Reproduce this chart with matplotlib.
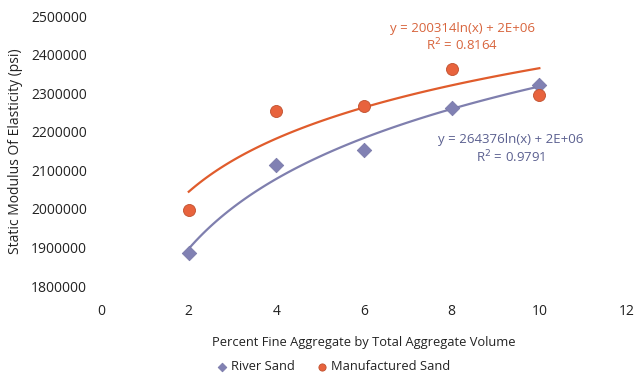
import matplotlib
matplotlib.use("Agg")
import matplotlib.pyplot as plt
import numpy as np

plt.rcParams['font.family'] = ['Open Sans', 'DejaVu Sans']

# percent fine aggregate
pct = [2, 4, 6, 8, 10]
river_sand = [1886000, 2114000, 2153000, 2262000, 2321000]
manuf_sand = [1997000, 2254000, 2267000, 2363000, 2295000]

blue = "#8181b3"
orange = "#e8633d"

fig = plt.figure(figsize=(6.44, 3.74), dpi=100)
ax = fig.add_axes([0.157, 0.235, 0.8166, 0.722])

# log trendlines fitted from the points
xs = np.linspace(2, 10, 100)
for vals, col in [(river_sand, "#7f7fae"), (manuf_sand, "#e05c2c")]:
    a, b = np.polyfit(np.log(pct), vals, 1)
    ax.plot(xs, a * np.log(xs) + b, color=col, lw=1.6, zorder=2)

ax.scatter(pct, river_sand, marker="D", s=55, color=blue, edgecolor="#7676a6",
           linewidth=0.5, zorder=3, label="River Sand")
ax.scatter(pct, manuf_sand, marker="o", s=75, color=orange, edgecolor="#c0502e",
           linewidth=0.6, zorder=3, label="Manufactured Sand")

ax.text(8.24, 2469000, "y = 200314ln(x) + 2E+06", color="#d8643c", fontsize=9.5,
        ha="center", va="center")
ax.text(8.24, 2425000, "R$^2$ = 0.8164", color="#d8643c", fontsize=9.5,
        ha="center", va="center")
ax.text(9.35, 2179000, "y = 264376ln(x) + 2E+06", color="#5b6090", fontsize=9.5,
        ha="center", va="center")
ax.text(9.35, 2135000, "R$^2$ = 0.9791", color="#5b6090", fontsize=9.5,
        ha="center", va="center")

ax.set_xlim(0, 12)
ax.set_ylim(1800000, 2500000)
ax.set_xticks(range(0, 13, 2))
ax.set_yticks(range(1800000, 2500001, 100000))
ax.ticklabel_format(style="plain", axis="y")
ax.tick_params(length=0, labelsize=10, colors="#222222")
ax.tick_params(axis="x", pad=13)
ax.tick_params(axis="y", pad=10)
for s in ax.spines.values():
    s.set_visible(False)

ax.set_xlabel("Percent Fine Aggregate by Total Aggregate Volume", fontsize=9.3,
              color="#222222", labelpad=12)
ax.set_ylabel("Static Modulus Of Elasticity (psi)", fontsize=10, color="#222222",
              labelpad=6)

fig.legend(loc="center", bbox_to_anchor=(0.512, 0.02), ncol=2, frameon=False,
           fontsize=9.3, handletextpad=-0.3, columnspacing=1.1, markerscale=0.6,
           labelcolor="#222222")

fig.savefig("out.png", dpi=100)
